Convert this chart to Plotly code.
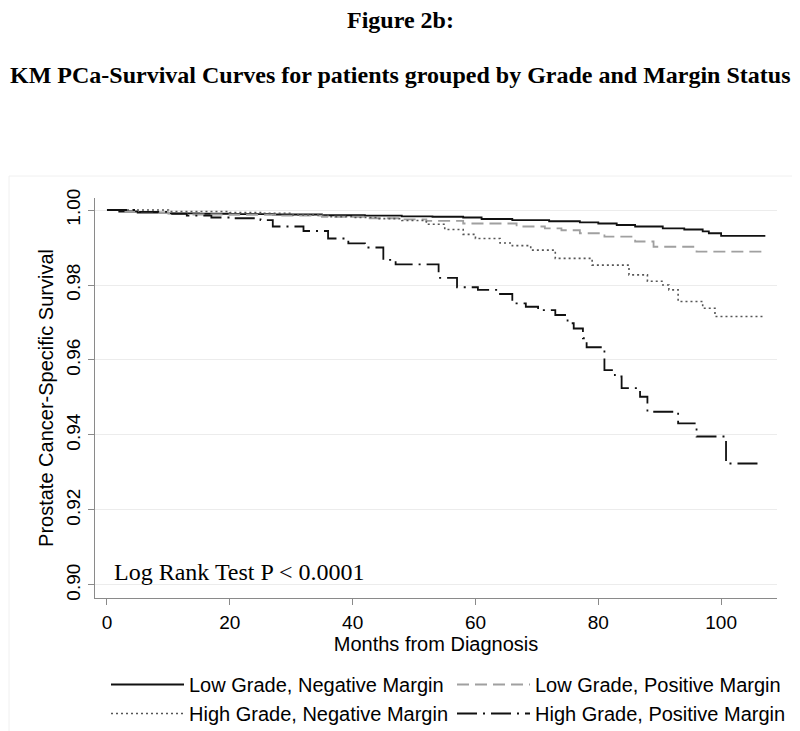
import plotly.graph_objects as go

# ---- data ----
lg_neg_t = [0, 2, 5, 10, 15, 20, 27, 35, 42, 48, 53, 58, 61, 66, 72, 77, 80, 83, 86, 90.5, 94, 97, 98, 100, 107.2]
lg_neg_s = [1.0, 0.9996, 0.9993, 0.9991, 0.9990, 0.9989, 0.9988, 0.9986, 0.9985, 0.9983, 0.9982, 0.9980,
            0.9976, 0.9973, 0.9970, 0.9967, 0.9964, 0.9960, 0.9956, 0.9951, 0.9948, 0.9943, 0.9938, 0.9931, 0.9931]

lg_pos_t = [0, 3, 8, 13, 20, 28, 35, 42, 48, 52, 58, 66.7, 71.3, 74, 77, 81, 86, 89, 96, 107.2]
lg_pos_s = [1.0, 0.9995, 0.9992, 0.9988, 0.9987, 0.9985, 0.9982, 0.9978, 0.9975, 0.9971, 0.9964, 0.9956,
            0.9951, 0.9946, 0.9938, 0.9929, 0.9916, 0.9902, 0.9889, 0.9889]

hg_neg_t = [0, 10, 20, 25, 30, 36, 40, 44, 48, 52, 55, 58, 60, 64, 66, 69, 73, 79, 85, 88, 90.5, 91.5, 93, 97, 99, 106.8]
hg_neg_s = [1.0, 0.9996, 0.9993, 0.9991, 0.9987, 0.9982, 0.9980, 0.9977, 0.9972, 0.9962, 0.9948, 0.9935,
            0.9924, 0.9912, 0.9905, 0.9893, 0.9871, 0.9853, 0.9827, 0.9810, 0.9800, 0.9787, 0.9756, 0.9738,
            0.9716, 0.9716]

hg_pos_t = [0, 5, 10, 13, 17, 20, 25, 27, 32, 36, 39.3, 42, 45, 47, 54, 57, 60.4, 64, 66, 68.2, 70.2, 73,
            75, 76, 77.5, 78.1, 81, 82.7, 83.8, 86.8, 88, 93, 96, 100.8, 106.8]
hg_pos_s = [1.0, 0.9995, 0.9990, 0.9985, 0.9980, 0.9978, 0.9973, 0.9956, 0.9944, 0.9924, 0.9911, 0.9900,
            0.9867, 0.9855, 0.9819, 0.9794, 0.9787, 0.9776, 0.9751, 0.9742, 0.9733, 0.9720, 0.9698, 0.9684,
            0.9658, 0.9634, 0.9573, 0.9556, 0.9525, 0.9502, 0.9462, 0.9431, 0.9396, 0.9324, 0.9324]

series_names = ["Low Grade, Negative Margin", "Low Grade, Positive Margin",
                "High Grade, Negative Margin", "High Grade, Positive Margin"]

x_ticks = [0, 20, 40, 60, 80, 100]
y_ticks = [0.90, 0.92, 0.94, 0.96, 0.98, 1.00]
y_tick_labels = ["0.90", "0.92", "0.94", "0.96", "0.98", "1.00"]

# ---- figure ----
fig = go.Figure()
styles = [
    dict(color="#111111", width=1.8, dash="solid"),
    dict(color="#a0a0a0", width=1.8, dash="12px,6px"),
    dict(color="#555555", width=1.6, dash="2px,3px"),
    dict(color="#111111", width=1.8, dash="20px,6px,2px,6px"),
]
data = [(lg_neg_t, lg_neg_s), (lg_pos_t, lg_pos_s), (hg_neg_t, hg_neg_s), (hg_pos_t, hg_pos_s)]
for (t, s), name, st in zip(data, series_names, styles):
    fig.add_trace(go.Scatter(x=t, y=s, mode="lines", name=name,
                             line=dict(shape="hv", **st), hoverinfo="skip"))

sans = "Liberation Sans, Arial, sans-serif"
serif = "Liberation Serif, Times New Roman, serif"

# The page body has an 8px default margin, so the figure is drawn 8px in from
# the window's top-left; size and positions are compensated for that.
OFF = 8
W, H = 800 - OFF, 731 - OFF
# target plot area in window pixels: x 95..777, y 198..598
PL, PR, PT, PB = 95 - OFF, 777 - OFF, 198 - OFF, 598 - OFF
def px_x(px):
    return (px - OFF - PL) / (PR - PL)
def px_y(py):
    return (PB - (py - OFF)) / (PB - PT)

ITEMW = 73
fig.update_layout(
    width=W, height=H,
    paper_bgcolor="white", plot_bgcolor="white",
    margin=dict(l=PL, r=W - PR, t=PT, b=H - PB, autoexpand=False),
    font=dict(family=sans, size=20, color="black"),
    showlegend=True,
    legend=dict(orientation="h", xref="paper", yref="paper",
                x=px_x(94), y=px_y(665), xanchor="left", yanchor="top",
                entrywidth=343 - (ITEMW + 10) - 14, entrywidthmode="pixels", itemwidth=ITEMW,
                indentation=12,
                font=dict(family=sans, size=20, color="black"),
                tracegroupgap=0, bgcolor="rgba(0,0,0,0)", borderwidth=0),
    xaxis=dict(range=[-1.95, 109.1], tickvals=x_ticks, showgrid=False, zeroline=False,
               showline=True, linecolor="#8a8a8a", linewidth=1,
               ticks="outside", ticklen=6, tickcolor="#8a8a8a", ticklabelstandoff=1,
               tickfont=dict(family=sans, size=19, color="black"),
               title=dict(text="Months from Diagnosis", standoff=0,
                          font=dict(family=sans, size=20, color="black"))),
    yaxis=dict(range=[0.89653, 1.0032], tickvals=y_ticks, ticktext=y_tick_labels,
               showgrid=True, gridcolor="#ececec", gridwidth=1, zeroline=False,
               showline=True, linecolor="#8a8a8a", linewidth=1,
               ticks="outside", ticklen=6, tickcolor="#8a8a8a", tickangle=-90,
               tickfont=dict(family=sans, size=19, color="black"),
               title=dict(text="Prostate Cancer-Specific Survival", standoff=4,
                          font=dict(family=sans, size=20, color="black"))),
    annotations=[
        dict(text="<b>Figure 2b:</b>", xref="paper", yref="paper", x=px_x(400), y=px_y(20),
             xanchor="center", yanchor="middle", showarrow=False,
             font=dict(family=serif, size=24, color="black")),
        dict(text="<b>KM PCa-Survival Curves for patients grouped by Grade and Margin Status</b>",
             xref="paper", yref="paper", x=px_x(400), y=px_y(75),
             xanchor="center", yanchor="middle", showarrow=False,
             font=dict(family=serif, size=24, color="black")),
        dict(text="Log Rank Test P < 0.0001", xref="paper", yref="paper", x=px_x(112), y=px_y(572),
             xanchor="left", yanchor="middle", showarrow=False,
             font=dict(family=serif, size=24, color="black")),
    ],
    shapes=[
        dict(type="rect", xref="paper", yref="paper",
             x0=px_x(9), x1=px_x(797), y0=px_y(760), y1=px_y(176),
             line=dict(color="#f0f0f0", width=1), layer="below"),
    ],
)

fig.write_html("out.html")
